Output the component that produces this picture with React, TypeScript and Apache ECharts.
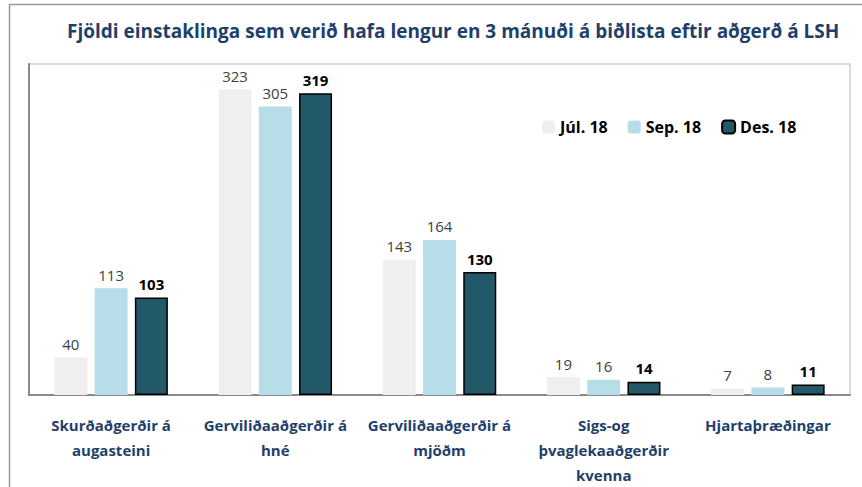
import React, { useEffect, useRef } from "react";
import * as echarts from "echarts";

const categories = [
  "Skurðaðgerðir á\naugasteini",
  "Gerviliðaaðgerðir á\nhné",
  "Gerviliðaaðgerðir á\nmjöðm",
  "Sigs-og\nþvaglekaaðgerðir\nkvenna",
  "Hjartaþræðingar",
];
const jul18 = [40, 323, 143, 19, 7];
const sep18 = [113, 305, 164, 16, 8];
const des18 = [103, 319, 130, 14, 11];
const seriesNames = ["Júl. 18", "Sep. 18", "Des. 18"];
const titleText = "Fjöldi einstaklinga sem verið hafa lengur en 3 mánuði á biðlista eftir aðgerð á LSH";

const FONT = "'Open Sans', 'Noto Sans', sans-serif";

export default function App() {
  const ref = useRef<HTMLDivElement>(null);
  useEffect(() => {
    document.body.style.margin = "0";
    const chart = echarts.init(ref.current!, null, { renderer: "svg" });
    const labelBase = {
      show: true,
      position: "top" as const,
      distance: 6,
      fontFamily: FONT,
      fontSize: 15,
      color: "#404040",
    };
    chart.setOption({
      animation: false,
      backgroundColor: "#ffffff",
      textStyle: { fontFamily: FONT },
      title: {
        text: titleText,
        left: 62,
        top: 16,
        textStyle: {
          fontFamily: FONT,
          fontSize: 19,
          fontWeight: "bold",
          color: "#1f3f6b",
        },
      },
      legend: {
        left: 537,
        top: 114,
        itemWidth: 13,
        itemHeight: 13,
        itemGap: 20,
        textStyle: { fontFamily: FONT, fontSize: 16, fontWeight: "bold", color: "#000" },
        data: seriesNames,
      },
      graphic: [
        {
          type: "polyline",
          shape: { points: [[9.5, 487], [9.5, 4.5], [862, 4.5]] },
          style: { stroke: "#9a9a9a", lineWidth: 1.5, fill: null },
          silent: true,
        },
      ],
      grid: {
        left: 29,
        right: 12,
        top: 64,
        bottom: 86,
        show: true,
        borderColor: "#cfcfcf",
        borderWidth: 1.5,
      },
      xAxis: {
        type: "category",
        data: categories,
        axisLine: { show: true, lineStyle: { color: "#8a8a8a", width: 2 } },
        axisTick: { show: false },
        axisLabel: {
          interval: 0,
          margin: 17,
          fontFamily: FONT,
          fontSize: 15,
          fontWeight: "bold",
          color: "#1f3f6b",
          lineHeight: 25,
        },
      },
      yAxis: {
        type: "value",
        min: 0,
        max: 350,
        axisLine: { show: true, lineStyle: { color: "#8a8a8a", width: 2 } },
        axisTick: { show: false },
        axisLabel: { show: false },
        splitLine: { show: false },
      },
      series: [
        {
          name: seriesNames[0],
          type: "bar",
          data: jul18,
          barWidth: 33,
          barGap: "22%",
          itemStyle: { color: "#efefef" },
          label: { ...labelBase },
        },
        {
          name: seriesNames[1],
          type: "bar",
          data: sep18,
          barWidth: 33,
          barGap: "22%",
          itemStyle: { color: "#b7dde8" },
          label: { ...labelBase },
        },
        {
          name: seriesNames[2],
          type: "bar",
          data: des18,
          barWidth: 33,
          barGap: "22%",
          itemStyle: { color: "#215968", borderColor: "#000", borderWidth: 1.5 },
          label: { ...labelBase, fontWeight: "bold", color: "#000" },
        },
      ],
    });
    return () => chart.dispose();
  }, []);
  return <div ref={ref} style={{ position: "fixed", left: 0, top: 0, width: 862, height: 487 }} />;
}
